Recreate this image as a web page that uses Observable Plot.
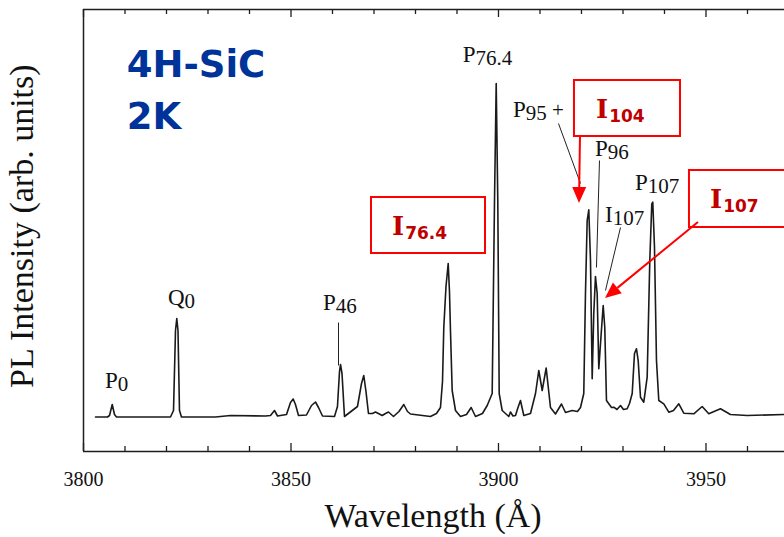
<!DOCTYPE html>
<html>
<head>
<meta charset="utf-8">
<script src="https://cdn.jsdelivr.net/npm/d3@7"></script>
<script src="https://cdn.jsdelivr.net/npm/@observablehq/plot@0.6"></script>
<style>
  body { margin: 0; background: #fff; }
  #chart svg { display: block; }
  #chart g[aria-label="text"], #chart g[aria-label="text"] text {
    font-family: 'Liberation Serif', 'Times New Roman', serif !important;
  }
</style>
</head>
<body>
<div id="chart"></div>
<script>
// ---- Spectrum: wavelength (Å) and PL intensity (arb. units)
const wavelength = [
  3802.89, 3805.78, 3806.27, 3806.92, 3807.47, 3807.95, 3813.73, 3820.96, 3821.69, 3822.17,
  3822.48, 3822.77, 3823.13, 3823.61, 3831.81, 3835.42, 3843.86, 3845.06, 3846.02, 3846.75,
  3848.92, 3849.88, 3850.53, 3851.08, 3851.81, 3853.73, 3854.94, 3855.90, 3856.63, 3857.59,
  3860.48, 3861.20, 3861.69, 3861.93, 3862.29, 3862.89, 3866.02, 3866.99, 3867.54, 3868.07,
  3868.67, 3869.64, 3870.36, 3871.98, 3872.77, 3873.49, 3874.70, 3876.02, 3877.18, 3878.07,
  3878.80, 3883.61, 3885.06, 3886.02, 3886.51, 3886.82, 3887.35, 3887.88, 3888.19, 3888.43,
  3888.84, 3889.64, 3890.84, 3892.29, 3893.42, 3894.46, 3896.14, 3897.28, 3898.48, 3899.04,
  3899.45, 3899.83, 3900.17, 3900.89, 3902.48, 3902.89, 3903.49, 3904.10, 3904.70, 3905.30,
  3906.10, 3907.71, 3908.92, 3909.71, 3910.53, 3911.49, 3912.53, 3913.73, 3915.18, 3916.14,
  3917.76, 3919.04, 3919.76, 3920.55, 3920.96, 3921.37, 3921.76, 3922.17, 3922.58, 3922.96,
  3923.37, 3923.78, 3924.17, 3924.75, 3925.23, 3925.61, 3926.02, 3926.58, 3927.23, 3927.78,
  3928.55, 3929.40, 3930.12, 3931.01, 3931.57, 3932.22, 3932.77, 3933.25, 3933.66, 3934.22,
  3935.01, 3935.83, 3936.46, 3936.94, 3937.18, 3937.59, 3938.07, 3938.63, 3939.83, 3941.04,
  3942.17, 3943.45, 3944.65, 3947.06, 3949.08, 3950.67, 3953.49, 3955.90, 3959.93, 3968.92
];
const intensity = [
  34.5, 34.5, 36, 47, 37, 34.5, 34.5, 34.5, 41, 121,
  133, 121, 41, 34.5, 34.5, 36, 35.5, 36, 41, 35.5,
  37, 49, 52.5, 47, 36, 36.5, 46, 49.5, 44, 35.5,
  35, 45, 80, 87, 78, 35, 45, 68, 76, 60,
  38, 38, 39.5, 36, 38, 39.5, 35, 40, 47, 40,
  37.5, 35, 38, 44, 70, 124, 165, 188, 160, 121,
  61, 41, 35, 37, 44, 35, 38, 46, 58, 251,
  368, 251, 58, 41, 35, 39.5, 35.5, 36, 44, 51,
  36, 38, 58, 81, 61, 83.5, 44, 37.5, 47.5, 39,
  41, 40, 44, 58, 158, 231, 241.7, 191, 72.7, 138,
  175, 158, 82.7, 118, 146, 124.3, 51, 47.7, 44, 44.3,
  42, 46, 42, 42.7, 48, 58, 98, 102.7, 91, 54.3,
  49.3, 74.3, 191, 247.7, 249.3, 204.3, 91, 51, 47.7, 39.3,
  41, 47.7, 38.3, 37.7, 45, 37.7, 42.7, 37, 36, 37
];

// ---- Axis ticks and labels
const axisTicks = [3800, 3810, 3820, 3830, 3840, 3850, 3860, 3870, 3880, 3890,
                   3900, 3910, 3920, 3930, 3940, 3950, 3960];
const tickLabels = [3800, 3850, 3900, 3950];
const xDomain = [3800, 3968.92];
const yDomain = [0, 442];
const xTitle = "Wavelength (Å)";
const yTitle = "PL Intensity (arb. units)";
const sampleTitle = ["4H-SiC", "2K"];
const sampleX = 3810.53;
const sampleY = [373.7, 322];

// ---- Peak labels (black, serif): letter, subscript, suffix, anchor (Å, intensity)
const peakLetters = ["P", "Q", "P", "P", "P", "P", "I", "P"];
const peakSubs    = ["0", "0", "46", "76.4", "95", "96", "107", "107"];
const peakSuffix  = ["", "", "", "", " +", "", "", ""];
const peakX       = [3805.30, 3820.48, 3857.83, 3891.49, 3903.61, 3923.37, 3925.78, 3933.01];
const peakY       = [63, 146, 141, 389.3, 334.3, 295, 229.3, 261];

// ---- Leader lines (black)
const leaders = [
  {x1: 3861.45, y1: 129, x2: 3861.45, y2: 86},
  {x1: 3914.46, y1: 328, x2: 3919.76, y2: 268},
  {x1: 3924.34, y1: 291, x2: 3923.61, y2: 184},
  {x1: 3929.40, y1: 224, x2: 3925.78, y2: 161}
];

// ---- Red highlighted labels
const redSubs = ["76.4", "104", "107"];
const redBoxes = [
  {x1: 3869.40, x2: 3896.87, y1: 198, y2: 254},
  {x1: 3918.31, x2: 3943.86, y1: 315, y2: 371},
  {x1: 3946.02, x2: 3972.00, y1: 224, y2: 281}
];
const redTextX = [3874.46, 3923.61, 3951.08];
const redTextY = [216, 333.3, 243];
const redArrows = [
  {x1: 3919.76, y1: 315, x2: 3919.52, y2: 248},
  {x1: 3948.19, y1: 229, x2: 3925.78, y2: 153}
];

const spectrum = wavelength.map((w, i) => ({w, v: intensity[i]}));
const frameColor = "#1e1e1e";
const serif = "'Liberation Serif', 'Times New Roman', serif";

const chart = Plot.plot({
  width: 784,
  height: 537,
  marginLeft: 83,
  marginRight: 0,
  marginTop: 9,
  marginBottom: 86,
  x: {domain: xDomain, axis: null},
  y: {domain: yDomain, axis: null},
  style: {fontFamily: serif, background: "#fff", overflow: "visible"},
  marks: [
    // frame
    Plot.ruleY([yDomain[0]], {stroke: frameColor, strokeWidth: 1.5}),
    Plot.ruleY([yDomain[1]], {stroke: frameColor, strokeWidth: 1.5}),
    Plot.ruleX([xDomain[0]], {stroke: frameColor, strokeWidth: 1.5}),
    // inward ticks, bottom and top
    Plot.ruleX(axisTicks, {x: d => d, y1: yDomain[0], y2: d => tickLabels.includes(d) ? 8 : 5, stroke: frameColor, strokeWidth: 1.3}),
    Plot.ruleX(axisTicks, {x: d => d, y1: yDomain[1], y2: d => yDomain[1] - (tickLabels.includes(d) ? 8 : 5), stroke: frameColor, strokeWidth: 1.3}),
    // tick labels
    Plot.text(tickLabels, {x: d => d, y: -34, text: d => String(d), fontSize: 20, fontFamily: serif, lineAnchor: "bottom", fill: "#111"}),
    // spectrum
    Plot.line(spectrum, {x: "w", y: "v", stroke: "#1a1a1a", strokeWidth: 1.6, strokeLinejoin: "round"}),
    // leader lines
    Plot.link(leaders, {x1: "x1", y1: "y1", x2: "x2", y2: "y2", stroke: "#222", strokeWidth: 1}),
    // red boxes
    Plot.rect(redBoxes, {x1: "x1", x2: "x2", y1: "y1", y2: "y2", fill: "#fff", stroke: "#ff0000", strokeWidth: 2})
  ]
});

document.getElementById("chart").appendChild(chart);

const X = chart.scale("x"), Y = chart.scale("y");
const svg = d3.select(chart);
const g = svg.append("g").attr("text-anchor", "start");

// axis titles
g.append("text")
  .attr("x", 433)
  .attr("y", Y.apply(0) + 76)
  .attr("text-anchor", "middle")
  .attr("font-family", serif)
  .attr("font-size", 34)
  .attr("fill", "#111")
  .text(xTitle);

g.append("text")
  .attr("transform", `translate(33,${Y.apply(63)}) rotate(-90)`)
  .attr("text-anchor", "start")
  .attr("font-family", serif)
  .attr("font-size", 34)
  .attr("fill", "#111")
  .text(yTitle);

// sample title
sampleTitle.forEach((s, i) => {
  g.append("text")
    .attr("x", X.apply(sampleX))
    .attr("y", Y.apply(sampleY[i]))
    .attr("text-anchor", "start")
    .attr("font-family", "'DejaVu Sans', Verdana, sans-serif")
    .attr("font-weight", "bold")
    .attr("font-size", 37)
    .attr("fill", "#003399")
    .text(s);
});

// peak labels
peakLetters.forEach((L, i) => {
  const t = g.append("text")
    .attr("x", X.apply(peakX[i]))
    .attr("y", Y.apply(peakY[i]))
    .attr("text-anchor", "start")
    .attr("font-family", serif)
    .attr("fill", "#111");
  t.append("tspan").attr("font-size", 23).text(L);
  t.append("tspan").attr("font-size", 21).attr("dy", 3).text(peakSubs[i]);
  if (peakSuffix[i]) t.append("tspan").attr("font-size", 21).attr("dy", -3).text(peakSuffix[i]);
});

// red labels
redSubs.forEach((s, i) => {
  const t = g.append("text")
    .attr("x", X.apply(redTextX[i]))
    .attr("y", Y.apply(redTextY[i]))
    .attr("text-anchor", "start")
    .attr("font-weight", "bold")
    .attr("fill", "#c00000");
  t.append("tspan").attr("font-family", "'DejaVu Serif', serif").attr("font-size", 26).text("I");
  t.append("tspan").attr("font-family", "'DejaVu Sans', sans-serif").attr("font-size", 17).attr("dx", 1).attr("dy", 4).text(s);
});

// red arrows (shaft + filled head)
redArrows.forEach(a => {
  const sx = X.apply(a.x1), sy = Y.apply(a.y1), tx = X.apply(a.x2), ty = Y.apply(a.y2);
  const dx = tx - sx, dy = ty - sy, len = Math.hypot(dx, dy);
  const ux = dx / len, uy = dy / len, nx = -uy, ny = ux;
  const headL = 16, headW = 14;
  const bx = tx - ux * headL, by = ty - uy * headL;
  g.append("line").attr("x1", sx).attr("y1", sy).attr("x2", bx).attr("y2", by)
    .attr("stroke", "#ff0000").attr("stroke-width", 2);
  g.append("path")
    .attr("d", `M${tx},${ty}L${bx + nx * headW / 2},${by + ny * headW / 2}L${bx - nx * headW / 2},${by - ny * headW / 2}Z`)
    .attr("fill", "#ff0000");
});
</script>
</body>
</html>
